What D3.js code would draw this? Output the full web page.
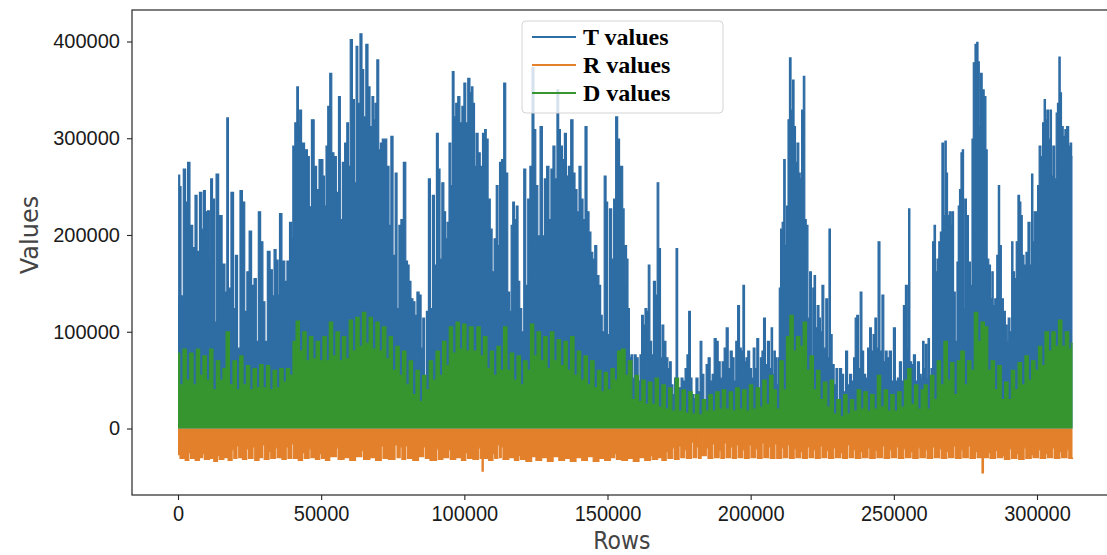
<!DOCTYPE html>
<html>
<head>
<meta charset="utf-8">
<script src="https://cdn.jsdelivr.net/npm/d3@7/dist/d3.min.js"></script>
<style>
  body { margin: 0; background: #fff; }
  svg { display: block; font-family: 'DejaVu Sans', sans-serif; }
  .axis .domain { display: none; }
  .axis .tick line { stroke: #262626; stroke-width: 1.1px; }
  .axis .tick text { fill: #1a1a1a; font-size: 20px; }
  .axis-label { fill: #444; }
  .legend text { font-family: 'Liberation Serif', 'Times New Roman', serif; font-weight: bold; font-size: 24px; fill: #000; }
</style>
</head>
<body>
<svg width="1107" height="555"></svg>
<script>
const seriesNames = ['T values', 'R values', 'D values']
const seriesColors = ['#2e6ca4', '#e3802b', '#37952f']
const xTicks = [0, 50000, 100000, 150000, 200000, 250000, 300000]
const yTicks = [0, 100000, 200000, 300000, 400000]

// [row, value in thousands], peaks and dips
const tValues = [
  [0,135],[500,262],[700,250],[1400,137],[2300,268],[3000,234],[3700,275],[4650,210],[5600,187],[6300,241],[7000,183],[8000,244],[8600,206],[9200,246],[9900,224],[10700,225],[11200,175],[11600,258],[12500,237],[13000,110],[13600,263],[14800,220],[16000,170],[16800,141],[17300,321],[17900,145],[19100,244],[19700,124],[20400,179],[21200,83],[22100,246],[22900,234],[23700,121],[24400,162],[25300,204],[26100,148],[27000,155],[27700,90],[28400,224],[29300,193],[30000,131],[30700,90],[31700,183],[32600,164],[33300,137],[33800,185],[34700,174],[35200,138],[35700,222],[36900,173],[37700,152],[38400,173],[39500,213],[39800,196],[40400,292],[41200,316],[41800,353],[42300,312],[42700,329],[43600,295],[44800,288],[45600,281],[46100,229],[47100,319],[48000,271],[48800,247],[49700,278],
  [50300,278],[50900,261],[51400,230],[52000,292],[52600,333],[53400,367],[54000,285],[54900,281],[55700,244],[56400,343],[57000,216],[57800,275],[58600,295],[59300,316],[59800,271],[60500,402],[61300,340],[61900,254],[62500,395],[63100,336],[64000,408],[64500,371],[65200,322],[66000,397],[66700,353],[67400,312],[68100,343],[68600,319],[69100,336],[69800,381],[70400,288],[71000,295],[71700,299],[72400,299],[73400,271],[74000,210],[74700,302],[75500,179],[76200,264],[76800,124],[77500,210],[78200,216],[79200,275],[79900,173],[80400,169],[81000,152],[81700,134],[82400,131],[83100,117],[83800,141],[84600,138],[85200,83],[85800,114],[86400,52],[87100,121],[87800,258],[88500,124],[89200,241],[89900,169],[90600,305],[91200,268],[91800,175],[92500,254],[93200,224],[93700,196],[94300,213],[95000,295],[95500,251],[96100,369],[96700,322],[97300,336],[98100,343],[98800,316],[99500,333],[100200,357],[100800,316],[101600,362],[102300,347],
  [102700,353],[103300,336],[103800,271],[104400,305],[105200,285],[105900,271],[106800,305],[107400,309],[107900,299],[108700,237],[109400,206],[110000,162],[110800,196],[111500,251],[112000,189],[112600,275],[113400,278],[114100,357],[114800,264],[115500,141],[116100,121],[116600,210],[117200,234],[117800,216],[118500,230],[119000,152],[119700,124],[120400,100],[121100,268],[121800,148],[122500,237],[123300,271],[124000,373],[124600,309],[125300,251],[126000,199],[126900,312],[127600,199],[128300,258],[129200,271],[129900,216],[130600,268],[131300,292],[132000,258],[132700,350],[133200,309],[133900,292],[134600,278],[135300,305],[136000,261],[136700,271],[137600,319],[138300,264],[139000,247],[139700,224],[140400,271],[141100,237],[141800,216],[142500,312],[143200,224],[143900,203],[144500,182],[145200,175],[145900,189],[146600,158],[147400,148],[147800,117],[148500,100],[149200,261],[149800,234],[150300,97],[151100,227],[151800,175],[152500,237],[153200,322],[153900,299],[154500,271],
  [155000,271],[155600,227],[156000,148],[156400,189],[156900,175],[157400,124],[157900,73],[158500,76],[159100,52],[159700,76],[160300,73],[161100,49],[161600,76],[162200,117],[162800,107],[163400,124],[164000,121],[164500,169],[165100,90],[165700,76],[166400,152],[167100,138],[167600,254],[168200,186],[168800,73],[169300,107],[170000,90],[170800,73],[171400,62],[172000,69],[172500,45],[173200,35],[173700,52],[174200,186],[174800,42],[175400,42],[176000,52],[176700,49],[177500,62],[178000,76],[178700,121],[179200,52],[179800,35],[180600,31],[181200,52],[182000,38],[182700,90],[183200,56],[184100,24],[184800,66],[185500,73],[186200,49],[186900,56],[187600,93],[188300,90],[189000,69],[189700,52],[190400,69],[191100,83],[191800,104],[192500,62],[193200,80],[193900,73],[194500,49],[195100,90],[195800,127],[196400,83],[197000,80],[197600,148],[198100,69],[198700,73],[199300,80],[200000,62],[200600,52],[201200,83],[201800,62],[202500,93],[203100,38],[203700,73],[204200,80],[204800,114],[205500,66],[206200,90],[206900,62],
  [207400,104],[207900,56],[208400,80],[208800,73],[209300,45],[209800,73],[210200,145],[210700,206],[211300,213],[211800,278],[212300,189],[212800,230],[213300,319],[213800,383],[214400,329],[214900,360],[215400,312],[215900,275],[216500,295],[217100,264],[217500,258],[218100,329],[218700,364],[219100,216],[219700,210],[220300,114],[220900,162],[221500,73],[221900,145],[222400,158],[222900,104],[223600,127],[224100,114],[224600,100],[225200,148],[225900,83],[226600,134],[227100,73],[227600,206],[228100,97],[228800,66],[229500,45],[230100,62],[230700,24],[231400,62],[232100,56],[232800,38],[233500,80],[234200,45],[234900,56],[235600,49],[236300,73],[236700,114],[237400,117],[237900,62],[238600,141],[239100,80],[239800,56],[240500,52],[241200,83],[241900,104],[242400,80],[243100,97],[243700,114],[244200,83],[244800,193],[245500,80],[246200,138],[246800,69],[247300,80],[248000,73],[248800,80],[249500,49],[250200,104],[250900,49],[251600,52],[252300,69],[253000,49],[253700,127],[254400,148],[255000,83],[255300,227],[255900,69],[256500,66],[257200,76],[257900,49],[258600,69],[259300,56],
  [259800,52],[260300,90],[260800,62],[261300,87],[261700,52],[262200,93],[262700,49],[263300,62],[263800,193],[264300,210],[264800,162],[265400,175],[266000,193],[266500,203],[267100,295],[267600,220],[268100,297],[268500,264],[269000,220],[269700,224],[270200,210],[270600,224],[271100,141],[271800,90],[272300,172],[272700,230],[273200,247],[273700,285],[274100,288],[274600,124],[275000,237],[275700,220],[276400,172],[277100,148],[277500,299],[278000,378],[278700,397],[279200,399],[279600,379],[280100,312],[280500,367],[281200,350],[281900,343],[282400,288],[282800,175],[283500,169],[284000,134],[284500,162],[284900,127],[285600,134],[286300,179],[286700,251],[287200,189],[287900,134],[288600,121],[289300,107],[289700,90],[290200,114],[290900,100],[291400,193],[291800,162],[292500,155],[293000,193],[293700,241],[294100,234],[294600,220],[295100,179],[295800,169],[296500,182],[297200,213],[297900,169],[298300,263],[298800,193],[299300,224],[300000,224],[300400,251],[301100,292],[301600,281],[302300,316],[302700,340],[303200,319],[303700,329],[304400,299],[304800,329],[305300,261],[305800,292],[306500,258],[306900,326],[307400,336],[307900,384],[308300,347],[308800,312],[309500,302],[310000,309],[310700,312],[311400,292],[311800,295],[312400,281]
]

// orange floor with its short upward notches and two deep dips
const rValues = [
  [0,-27],[700,-31],[2500,-33],[3800,-25],[4400,-31],[6000,-33],[7500,-30],[8600,-26],[9200,-32],[11000,-31],[12500,-34],[13800,-28],[14400,-32],[16000,-30],[17500,-33],[18900,-22],[19500,-31],[20600,-18],[21200,-30],[22500,-32],[24000,-21],[24600,-31],[26200,-19],[26800,-33],[28300,-30],[29500,-17],[30100,-32],[31800,-24],[32400,-31],[34000,-20],[34600,-30],[36300,-32],[37800,-19],[38400,-31],[39600,-16],[40200,-31],[42000,-33],[43500,-25],[44100,-31],[45800,-21],[46400,-30],[48000,-32],[49500,-26],[50100,-31],
  [51500,-33],[53000,-29],[55300,-20],[55900,-32],[58000,-30],[60000,-33],[62000,-29],[64200,-23],[64800,-32],[67000,-30],[69000,-33],[71000,-18],[71600,-31],[73500,-32],[75800,-17],[76500,-30],[77600,-19],[78200,-32],[79500,-18],[80100,-31],[82000,-33],[84000,-29],[85800,-19],[86400,-31],[88000,-33],[90300,-21],[90900,-32],[92500,-30],[94500,-22],[95100,-32],[97000,-30],[99000,-33],[100500,-25],[101100,-31],
  [103000,-32],[104900,-20],[105500,-31],[106200,-44],[106600,-31],[108500,-33],[110000,-26],[110600,-31],[111700,-17],[112300,-30],[112900,-19],[113500,-32],[115500,-30],[117500,-33],[119000,-28],[119600,-32],[121500,-34],[123500,-29],[125000,-33],[127000,-30],[129000,-34],[131000,-29],[133000,-33],[135000,-31],[137000,-34],[139000,-30],[141000,-33],[143000,-29],[145000,-34],[147000,-31],[149000,-33],[151000,-30],[152500,-26],[153100,-32],
  [155000,-33],[157000,-31],[159000,-34],[161000,-30],[163000,-33],[165000,-28],[165600,-32],[167500,-30],[169000,-33],[170500,-24],[171100,-31],[172800,-20],[173400,-32],[175000,-18],[175600,-30],[177000,-22],[177600,-31],[179300,-14],[179900,-30],[181200,-19],[181800,-31],[182700,-6],[183100,-28],[184500,-20],[185100,-31],[186800,-16],[187400,-30],[189000,-23],[189600,-31],[190800,-15],[191400,-30],[193000,-19],[193600,-31],[195000,-17],[195600,-30],[197200,-22],[197800,-31],[199500,-17],[200100,-30],[201800,-21],[202400,-31],[204000,-15],[204600,-30],[206200,-19],[206800,-31],
  [208500,-16],[209100,-31],[210800,-20],[211400,-30],[213000,-17],[213600,-31],[215200,-21],[215800,-30],[217500,-24],[218100,-31],[219800,-19],[220400,-30],[222000,-22],[222600,-31],[224300,-18],[224900,-30],[226600,-23],[227200,-31],[229000,-20],[229600,-30],[231500,-25],[232100,-31],[233800,-17],[234400,-30],[236000,-22],[236600,-31],[238500,-24],[239100,-30],[241000,-20],[241600,-31],[243500,-23],[244100,-30],[246000,-18],[246600,-31],[248500,-22],[249100,-30],[251000,-19],[251600,-31],[253500,-21],[254100,-30],[256000,-24],[256600,-31],[258500,-20],[259100,-30],
  [261000,-22],[261600,-31],[263500,-19],[264100,-30],[266000,-21],[266600,-31],[268500,-24],[269100,-30],[271000,-18],[271600,-31],[273500,-22],[274100,-30],[276000,-18],[276600,-31],[278500,-24],[279100,-30],[280800,-46],[281300,-30],[283000,-25],[283600,-31],[285500,-23],[286100,-30],[288000,-28],[288600,-32],[290500,-21],[291100,-31],[293000,-26],[293600,-32],[295500,-20],[296100,-31],[298000,-27],[298600,-30],[300500,-22],[301100,-31],[303000,-26],[303600,-30],[305500,-20],[306100,-31],[308000,-24],[308600,-30],[310500,-22],[311100,-31],[312400,-30]
]

const dValues = [
  [0,78],[1200,45],[2300,82],[3500,50],[4700,78],[5800,45],[7000,82],[8100,55],[9300,75],[10500,50],[11600,82],[12800,40],[14000,70],[15100,50],[16300,62],[17300,100],[18600,45],[19800,70],[21000,40],[22100,75],[23300,45],[24500,65],[25600,40],[26800,62],[28000,42],[29100,66],[30300,42],[31500,65],[32600,40],[33800,60],[35000,42],[36100,62],[37300,48],[38400,62],[39600,55],[40700,90],[41800,111],[43000,80],[44200,100],[45300,70],[46500,95],[47700,72],[48800,90],[50000,70],
  [51200,95],[52300,70],[53400,110],[54600,75],[55700,100],[56900,70],[58000,95],[59200,72],[60400,112],[61500,80],[62700,115],[63800,85],[65000,120],[66200,88],[67300,115],[68500,82],[69700,110],[70800,80],[72000,105],[73200,72],[74300,95],[75500,60],[76700,85],[77800,55],[79000,80],[80200,45],[81300,70],[82500,35],[83700,60],[84800,28],[86000,55],[87200,40],[88300,70],[89500,50],[90700,80],[91800,55],[93000,90],[94200,65],[95300,105],[96500,78],[97700,110],[98800,82],[100000,108],[101200,80],[102300,105],
  [103800,80],[105000,105],[106100,75],[107300,95],[108500,62],[109600,80],[110800,55],[112000,85],[113100,60],[114300,105],[115500,60],[116600,78],[117800,50],[119000,75],[120200,45],[121300,70],[122500,60],[123700,108],[124800,75],[126000,100],[127200,70],[128300,95],[129500,62],[130700,100],[131800,70],[133000,92],[134200,65],[135400,90],[136500,60],[137700,95],[138900,55],[140000,80],[141200,50],[142400,75],[143600,45],[144700,70],[145900,42],[147100,60],[148300,38],[149400,58],[150600,40],[151800,62],[152900,50],[154100,80],
  [155600,82],[156700,55],[157900,70],[159100,30],[160200,55],[161400,28],[162600,50],[163700,25],[164900,48],[166100,25],[167200,52],[168400,22],[169600,45],[170800,20],[171900,42],[173100,18],[174300,52],[175400,18],[176600,40],[177800,16],[179000,38],[180100,15],[181300,35],[182500,14],[183700,30],[184800,18],[186000,35],[187200,18],[188400,38],[189500,20],[190700,40],[191900,20],[193100,38],[194200,18],[195400,42],[196600,20],[197800,40],[199000,18],[200100,45],[201300,20],[202500,42],[203700,22],[204800,50],[206000,25],[207200,55],
  [208400,40],[209600,20],[210800,70],[211900,40],[213100,95],[214300,117],[215400,80],[216600,95],[217800,85],[218900,110],[220100,60],[221300,75],[222500,40],[223600,60],[224800,30],[226000,48],[227200,22],[228300,50],[229500,15],[230700,30],[231900,12],[233100,35],[234200,15],[235400,30],[236600,18],[237800,40],[239000,20],[240100,38],[241300,18],[242500,35],[243700,20],[244800,55],[246000,22],[247200,40],[248400,18],[249500,35],[250700,18],[251900,38],[253100,22],[254300,50],[255400,62],[256600,25],[257800,45],[259000,20],[260100,40],
  [261100,45],[262200,20],[263400,55],[264600,30],[265700,70],[266900,45],[268100,90],[269300,50],[270400,68],[271600,35],[272800,70],[274000,80],[275200,45],[276300,70],[277500,60],[278700,120],[279900,90],[281000,110],[282200,105],[283400,60],[284600,70],[285700,40],[286900,65],[288100,30],[289300,48],[290500,30],[291600,60],[292800,40],[294000,68],[295200,45],[296400,75],[297500,50],[298700,70],[299900,60],[301100,85],[302200,65],[303400,100],[304600,80],[305800,100],[306900,85],[308100,112],[309300,85],[310500,100],[311600,82],[312400,88]
]

const frame = { left: 132, top: 10, right: 1117, bottom: 495 }

const svg = d3.select('svg')

const xScale = d3.scaleLinear([0, 300000], [178, 1037])
const yScale = d3.scaleLinear([0, 400000], [428.5, 41.5])

svg.append('defs').append('clipPath')
  .attr('id', 'plot-clip')
  .append('rect')
  .attr('x', frame.left)
  .attr('y', frame.top)
  .attr('width', frame.right - frame.left)
  .attr('height', frame.bottom - frame.top)

const series = [
  { name: seriesNames[0], color: seriesColors[0], values: tValues, curve: d3.curveStep },
  { name: seriesNames[1], color: seriesColors[1], values: rValues, curve: d3.curveStepAfter },
  { name: seriesNames[2], color: seriesColors[2], values: dValues, curve: d3.curveStep },
]

const plot = svg.append('g')
  .attr('clip-path', 'url(#plot-clip)')

series.forEach(s => {
  const area = d3.area()
    .x(d => xScale(d[0]))
    .y0(yScale(0))
    .y1(d => yScale(d[1] * 1000))
    .curve(s.curve)
  const line = d3.line()
    .x(d => xScale(d[0]))
    .y(d => yScale(d[1] * 1000))
    .curve(s.curve)

  plot.append('path')
    .datum(s.values)
    .attr('d', area)
    .style('fill', s.color)
  plot.append('path')
    .datum(s.values)
    .attr('d', line)
    .style('fill', 'none')
    .style('stroke', s.color)
    .style('stroke-width', 1.2)
})

// Frame
svg.append('rect')
  .attr('x', frame.left)
  .attr('y', frame.top)
  .attr('width', frame.right - frame.left)
  .attr('height', frame.bottom - frame.top)
  .style('fill', 'none')
  .style('stroke', '#262626')
  .style('stroke-width', 1.2)

// Y Axis
svg.append('g')
  .classed('axis', true)
  .attr('transform', `translate(${ frame.left },0)`)
  .call(d3.axisLeft(yScale).tickValues(yTicks).tickSize(5).tickPadding(7).tickFormat(d3.format('d')))

// X Axis
const xAxisEl = svg.append('g')
  .classed('axis', true)
  .attr('transform', `translate(0,${ frame.bottom })`)
  .call(d3.axisBottom(xScale).tickValues(xTicks).tickSize(5).tickPadding(4).tickFormat(d3.format('d')))
xAxisEl.selectAll('.tick text')
  .attr('transform', 'scale(1,1.1)')

svg.append('text')
  .classed('axis-label', true)
  .attr('transform', 'translate(38,235) rotate(-90)')
  .attr('text-anchor', 'middle')
  .attr('font-size', 24)
  .text('Values')

svg.append('text')
  .classed('axis-label', true)
  .attr('transform', `translate(${ xScale(155000) },548.7) scale(1,1.1)`)
  .attr('text-anchor', 'middle')
  .attr('font-size', 22)
  .text('Rows')

// Legend
const legend = svg.append('g')
  .classed('legend', true)
  .attr('transform', 'translate(522,21)')

legend.append('rect')
  .attr('width', 201)
  .attr('height', 92)
  .attr('rx', 4)
  .style('fill', '#fff')
  .style('fill-opacity', 0.8)
  .style('stroke', '#d4d4d4')

const items = legend.selectAll('g')
  .data(series)
  .join('g')
  .attr('transform', (d, i) => `translate(0,${ 16 + i * 28 })`)

items.append('line')
  .attr('x1', 10)
  .attr('x2', 54)
  .style('stroke', d => d.color)
  .style('stroke-width', 2)

items.append('text')
  .attr('x', 61)
  .attr('y', 8)
  .text(d => d.name)
</script>
</body>
</html>
